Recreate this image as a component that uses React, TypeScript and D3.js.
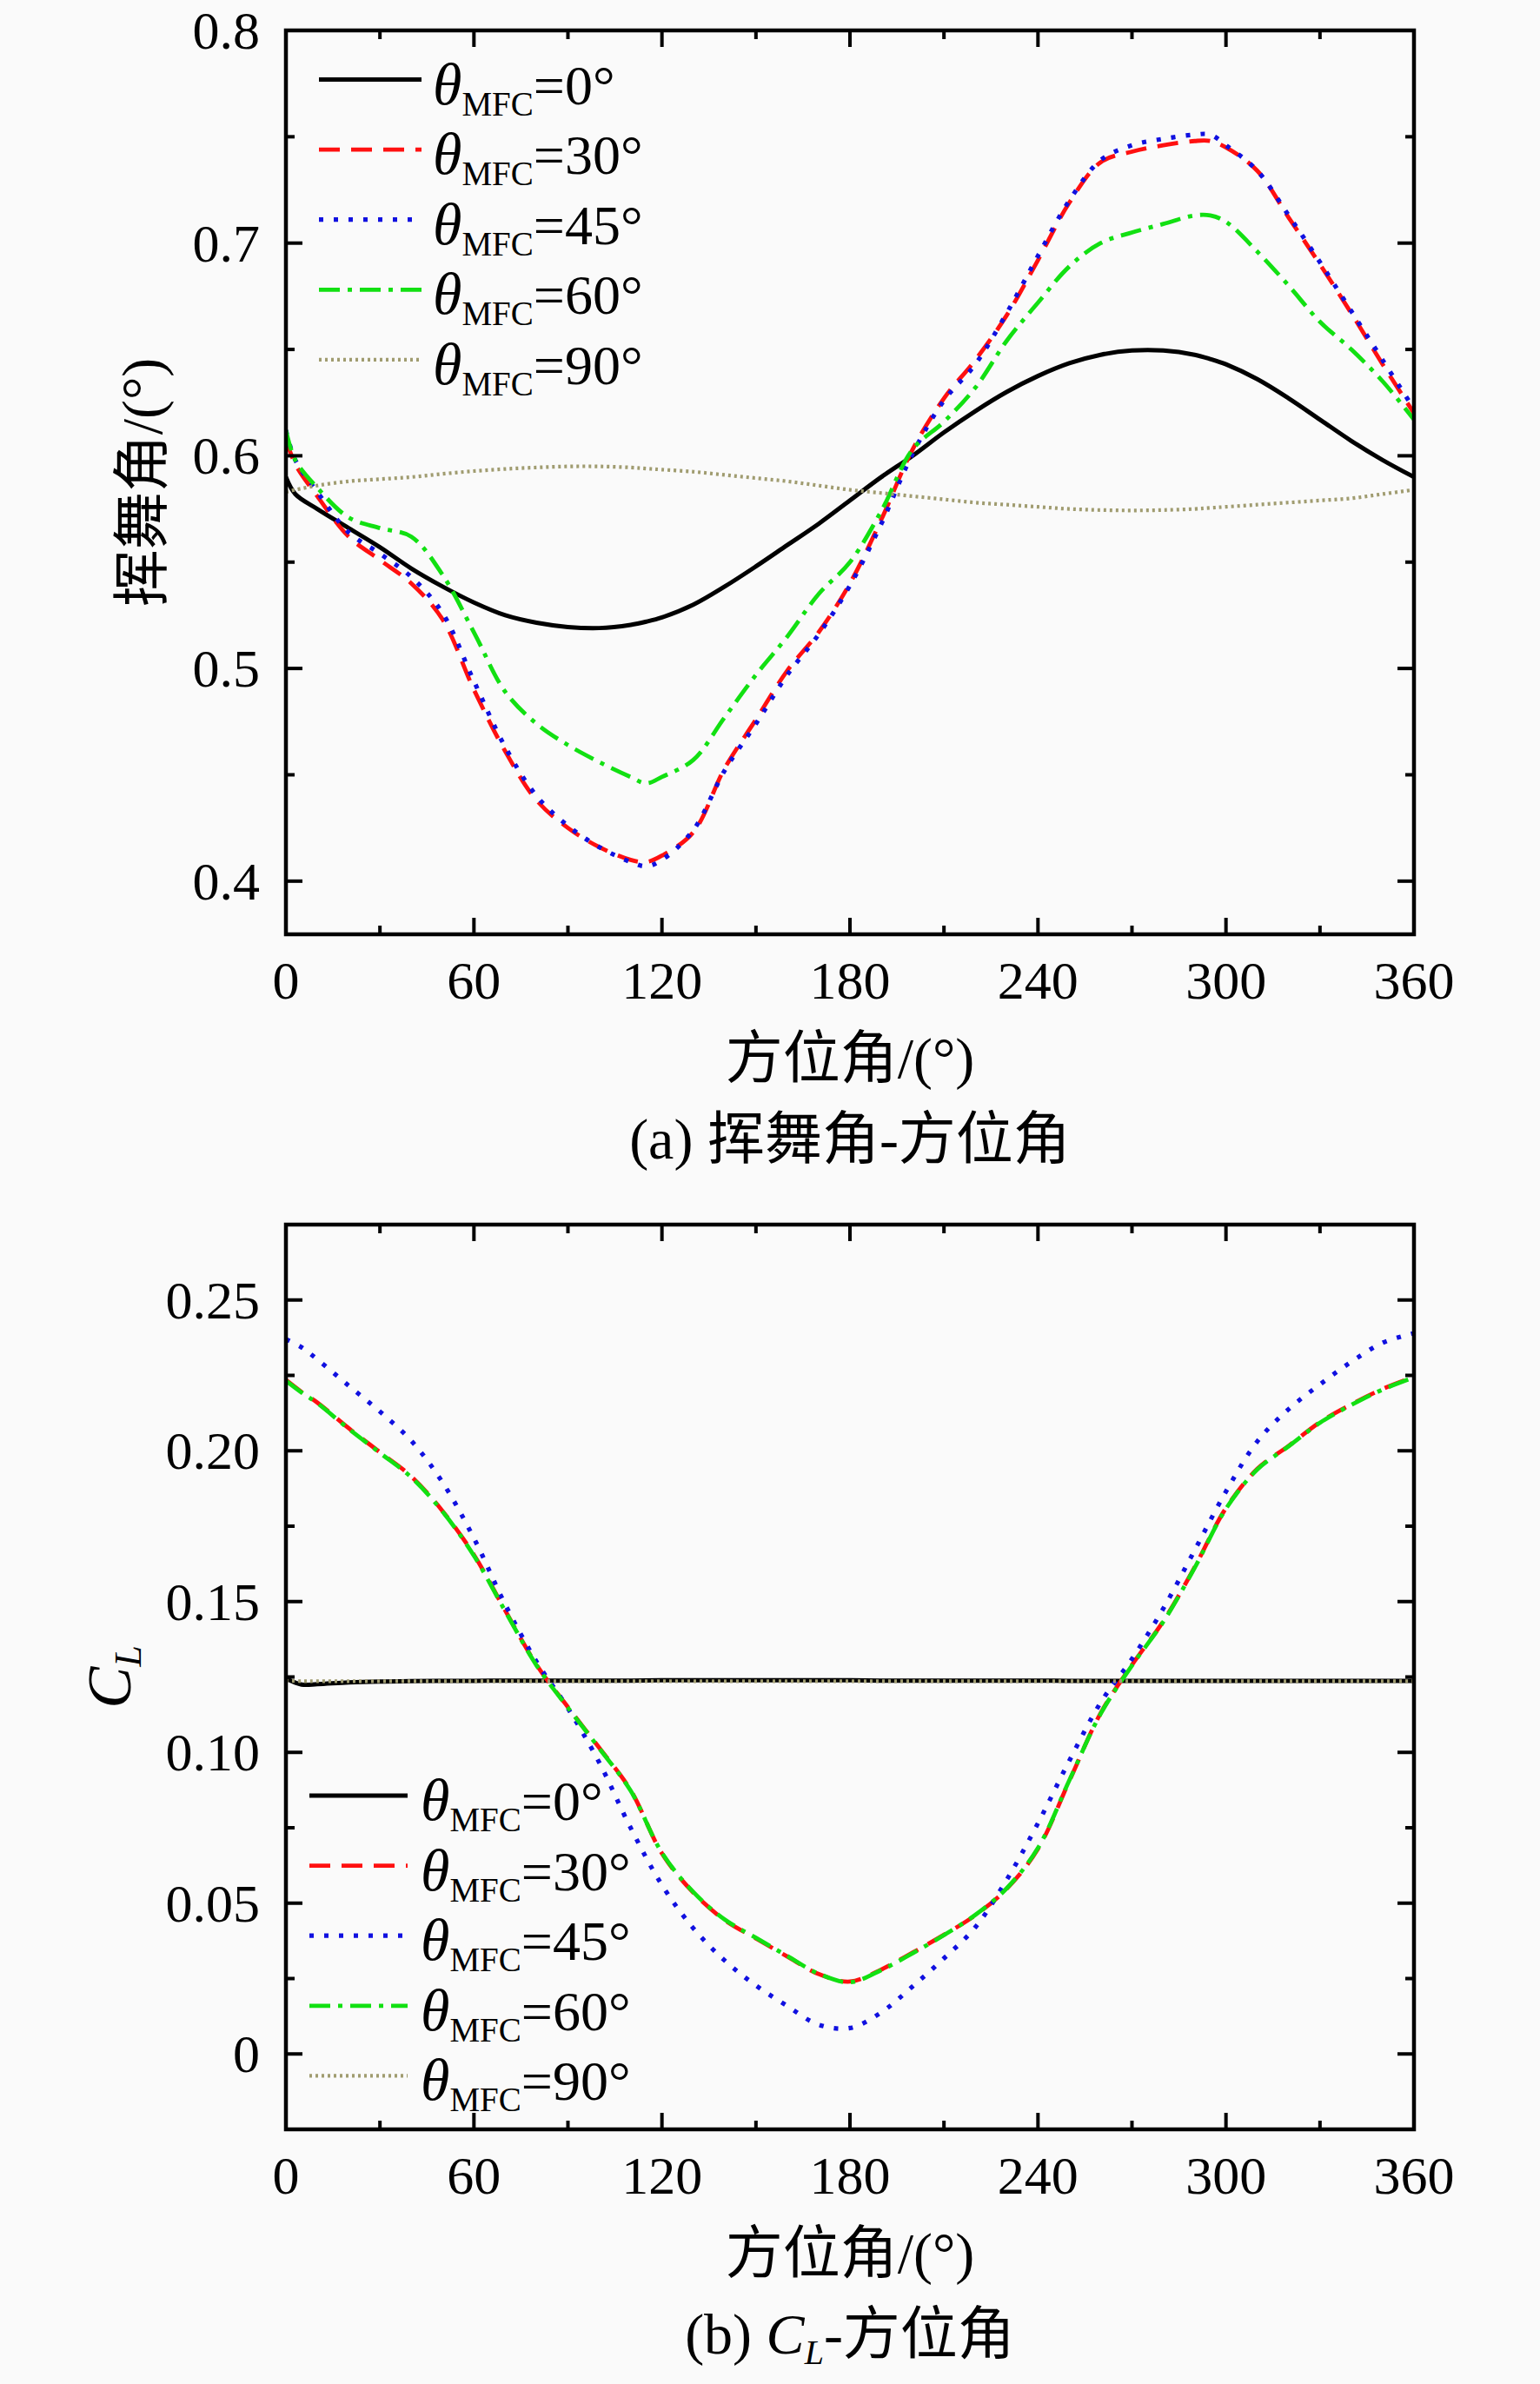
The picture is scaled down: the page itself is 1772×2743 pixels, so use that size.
import React from 'react';
import * as d3 from 'd3';

const W = 1772;
const H = 2743;
const LEFT = 329;
const RIGHT = 1627;

// (a) flap angle vs azimuth
const azimuthA = [0, 3, 10, 20, 30, 40, 50, 60, 70, 80, 90, 100, 110, 115, 120, 130, 140, 150, 160, 170,
  180, 190, 200, 210, 220, 230, 240, 250, 260, 270, 280, 290, 295, 300, 310, 320, 330, 340, 350, 360];
const flapMFC0 = [0.590, 0.582, 0.575, 0.566, 0.557, 0.547, 0.5385, 0.531, 0.525, 0.5215, 0.5195, 0.519, 0.5205, 0.522, 0.524, 0.530, 0.5385, 0.548, 0.558, 0.568,
  0.579, 0.590, 0.600, 0.611, 0.621, 0.630, 0.6375, 0.6435, 0.6475, 0.6495, 0.6495, 0.6475, 0.6455, 0.643, 0.636, 0.627, 0.617, 0.607, 0.598, 0.590];
const flapMFC30 = [0.608, 0.596, 0.581, 0.562, 0.551, 0.540, 0.523, 0.490, 0.461, 0.438, 0.425, 0.416, 0.410, 0.409, 0.412, 0.423, 0.453, 0.476, 0.499, 0.517,
  0.540, 0.570, 0.603, 0.627, 0.645, 0.666, 0.692, 0.719, 0.738, 0.743, 0.746, 0.748, 0.748, 0.745, 0.734, 0.712, 0.690, 0.667, 0.643, 0.620];
const flapMFC45 = [0.612, 0.598, 0.583, 0.564, 0.554, 0.543, 0.526, 0.494, 0.463, 0.440, 0.426, 0.416, 0.409, 0.407, 0.410, 0.424, 0.452, 0.474, 0.497, 0.516,
  0.539, 0.568, 0.601, 0.626, 0.643, 0.667, 0.694, 0.720, 0.739, 0.746, 0.749, 0.751, 0.751, 0.746, 0.734, 0.713, 0.691, 0.668, 0.645, 0.622];
const flapMFC60 = [0.612, 0.598, 0.585, 0.571, 0.566, 0.562, 0.544, 0.517, 0.489, 0.474, 0.464, 0.456, 0.449, 0.446, 0.449, 0.457, 0.477, 0.497, 0.515, 0.535,
  0.550, 0.574, 0.603, 0.616, 0.632, 0.654, 0.672, 0.689, 0.700, 0.705, 0.709, 0.713, 0.713, 0.710, 0.696, 0.680, 0.663, 0.650, 0.635, 0.617];
const flapMFC90 = [0.583, 0.584, 0.586, 0.588, 0.589, 0.590, 0.5915, 0.5928, 0.5938, 0.5945, 0.595, 0.595, 0.5945, 0.594, 0.5935, 0.5925, 0.591, 0.5895, 0.588, 0.586,
  0.584, 0.5825, 0.581, 0.5795, 0.578, 0.577, 0.576, 0.575, 0.5745, 0.5743, 0.5745, 0.575, 0.5755, 0.576, 0.577, 0.578, 0.579, 0.580, 0.582, 0.584];

// (b) lift coefficient vs azimuth
const azimuthB = [0, 5, 10, 20, 30, 40, 50, 60, 70, 80, 90, 100, 110, 120, 130, 140, 150, 160, 170,
  180, 190, 200, 210, 220, 230, 240, 250, 260, 270, 280, 290, 300, 310, 320, 330, 340, 350, 360];
const clMFC0 = [0.1245, 0.1225, 0.1226, 0.1232, 0.1235, 0.1236, 0.1237, 0.1237, 0.1238, 0.1238, 0.1238, 0.1238, 0.1238, 0.1239, 0.1239, 0.1239, 0.1239, 0.1239, 0.1239,
  0.1239, 0.1238, 0.1238, 0.1238, 0.1238, 0.1238, 0.1238, 0.1237, 0.1237, 0.1237, 0.1237, 0.1237, 0.1237, 0.1237, 0.1237, 0.1237, 0.1237, 0.1237, 0.1237];
const clMFC30 = [0.2235, 0.2195, 0.216, 0.2075, 0.1995, 0.1915, 0.180, 0.1655, 0.147, 0.129, 0.115, 0.1015, 0.0875, 0.0665, 0.0535, 0.0444, 0.0383, 0.0323, 0.0265,
  0.0240, 0.0280, 0.0336, 0.0395, 0.0460, 0.0547, 0.068, 0.0905, 0.113, 0.129, 0.1435, 0.1614, 0.181, 0.194, 0.2016, 0.2095, 0.2154, 0.2205, 0.2245];
const clMFC45 = [0.237, 0.2343, 0.2303, 0.2216, 0.213, 0.2033, 0.1895, 0.171, 0.149, 0.130, 0.1146, 0.0966, 0.075, 0.056, 0.0417, 0.031, 0.0227, 0.0159, 0.0097,
  0.0086, 0.0138, 0.0224, 0.0317, 0.042, 0.0577, 0.0765, 0.0972, 0.1165, 0.131, 0.1477, 0.167, 0.1865, 0.2031, 0.2138, 0.222, 0.2295, 0.2358, 0.239];
const clMFC60 = [0.2232, 0.2193, 0.2158, 0.2073, 0.1993, 0.1912, 0.1798, 0.1652, 0.1468, 0.1288, 0.1148, 0.1013, 0.0873, 0.0667, 0.0537, 0.0446, 0.0385, 0.0325, 0.0266,
  0.0238, 0.0278, 0.0334, 0.0394, 0.0461, 0.0549, 0.0683, 0.0907, 0.1128, 0.1288, 0.1433, 0.1612, 0.1808, 0.1938, 0.2015, 0.2093, 0.2152, 0.2203, 0.2243];
const clMFC90 = [0.1238, 0.1236, 0.1236, 0.1236, 0.1236, 0.1236, 0.1236, 0.1236, 0.1236, 0.1236, 0.1236, 0.1236, 0.1236, 0.1236, 0.1236, 0.1236, 0.1236, 0.1236, 0.1236,
  0.1236, 0.1236, 0.1236, 0.1236, 0.1236, 0.1236, 0.1236, 0.1236, 0.1236, 0.1236, 0.1236, 0.1236, 0.1236, 0.1236, 0.1236, 0.1236, 0.1236, 0.1236, 0.1236];

const mfcLabels = ['0°', '30°', '45°', '60°', '90°'];
const xMajorTicks = [0, 60, 120, 180, 240, 300, 360];
const xMinorTicks = [30, 90, 150, 210, 270, 330];

const styles = [
  { color: '#000000', dash: undefined, width: 5 },
  { color: '#ff1010', dash: '24,13', width: 4.8 },
  { color: '#1010e0', dash: '5,12', width: 5.2 },
  { color: '#12e012', dash: '24,9,5,9', width: 4.8 },
  { color: '#a09c70', dash: '3,4', width: 4.2 },
];

const SERIF = "'Liberation Serif','Times New Roman','Noto Sans CJK SC',serif";

type PanelProps = {
  id: string;
  top: number;
  bottom: number;
  yDomain: [number, number];
  yMajor: number[];
  yMinor: number[];
  yFmt: (v: number) => string;
  azimuth: number[];
  values: number[][];
  legendLineX: [number, number];
  legendTextX: number;
  legendY0: number;
  yTitle: React.ReactNode;
  caption: React.ReactNode;
};

const Panel = (p: PanelProps) => {
  const x = d3.scaleLinear().domain([0, 360]).range([LEFT, RIGHT]);
  const y = d3.scaleLinear().domain(p.yDomain).range([p.bottom, p.top]);
  const line = d3.line<number>()
    .x((_, i) => x(p.azimuth[i]))
    .y(d => y(d))
    .curve(d3.curveCatmullRom.alpha(0.5));
  const major = 19;
  const minor = 10;
  const rowGap = 80.6;
  return (
    <g>
      <defs>
        <clipPath id={p.id}>
          <rect x={LEFT} y={p.top} width={RIGHT - LEFT} height={p.bottom - p.top} />
        </clipPath>
      </defs>
      <g clipPath={`url(#${p.id})`}>
        {p.values.map((vals, i) => (
          <path key={i} d={line(vals) || ''} fill="none" stroke={styles[i].color}
            strokeWidth={styles[i].width} strokeDasharray={styles[i].dash} />
        ))}
      </g>
      {/* ticks, all pointing inward */}
      <g stroke="#000" strokeWidth={4}>
        {xMajorTicks.map(t => (
          <g key={'xm' + t}>
            <line x1={x(t)} x2={x(t)} y1={p.bottom} y2={p.bottom - major} />
            <line x1={x(t)} x2={x(t)} y1={p.top} y2={p.top + major} />
          </g>
        ))}
        {xMinorTicks.map(t => (
          <g key={'xn' + t}>
            <line x1={x(t)} x2={x(t)} y1={p.bottom} y2={p.bottom - minor} />
            <line x1={x(t)} x2={x(t)} y1={p.top} y2={p.top + minor} />
          </g>
        ))}
        {p.yMajor.map(t => (
          <g key={'ym' + t}>
            <line x1={LEFT} x2={LEFT + major} y1={y(t)} y2={y(t)} />
            <line x1={RIGHT} x2={RIGHT - major} y1={y(t)} y2={y(t)} />
          </g>
        ))}
        {p.yMinor.map(t => (
          <g key={'yn' + t}>
            <line x1={LEFT} x2={LEFT + minor} y1={y(t)} y2={y(t)} />
            <line x1={RIGHT} x2={RIGHT - minor} y1={y(t)} y2={y(t)} />
          </g>
        ))}
      </g>
      <rect x={LEFT} y={p.top} width={RIGHT - LEFT} height={p.bottom - p.top}
        fill="none" stroke="#000" strokeWidth={4.5} />
      {/* tick labels */}
      <g fontFamily={SERIF} fontSize={62} fill="#000">
        {xMajorTicks.map(t => (
          <text key={'xl' + t} x={x(t)} y={p.bottom + 74} textAnchor="middle">{t}</text>
        ))}
        {p.yMajor.map(t => (
          <text key={'yl' + t} x={LEFT - 30} y={y(t) + 21} textAnchor="end">{p.yFmt(t)}</text>
        ))}
      </g>
      <text x={(LEFT + RIGHT) / 2} y={p.bottom + 165} textAnchor="middle"
        fontFamily={SERIF} fontSize={66}>方位角/(°)</text>
      {p.yTitle}
      <text x={(LEFT + RIGHT) / 2} y={p.bottom + 258} textAnchor="middle"
        fontFamily={SERIF} fontSize={66}>{p.caption}</text>
      {/* legend */}
      <g fontFamily={SERIF} fontSize={64}>
        {mfcLabels.map((lab, i) => {
          const ly = p.legendY0 + i * rowGap;
          return (
            <g key={'lg' + i}>
              <line x1={p.legendLineX[0]} x2={p.legendLineX[1]} y1={ly} y2={ly}
                stroke={styles[i].color} strokeWidth={styles[i].width} strokeDasharray={styles[i].dash} />
              <text x={p.legendTextX} y={ly + 28}>
                <tspan fontStyle="italic" fontSize={68}>θ</tspan>
                <tspan fontSize={39} dy={13}>MFC</tspan>
                <tspan dy={-13}>={lab}</tspan>
              </text>
            </g>
          );
        })}
      </g>
    </g>
  );
};

export default function App() {
  const midA = (35 + 1075) / 2;
  const midB = (1409 + 2450) / 2;
  return (
    <div style={{ position: 'absolute', left: 0, top: 0 }}>
      <svg width={W} height={H} viewBox={`0 0 ${W} ${H}`}>
        <rect x={0} y={0} width={W} height={H} fill="#fafafa" />
        <Panel
          id="clipA"
          top={35}
          bottom={1075}
          yDomain={[0.375, 0.8]}
          yMajor={[0.4, 0.5, 0.6, 0.7, 0.8]}
          yMinor={[0.45, 0.55, 0.65, 0.75]}
          yFmt={v => d3.format('.1f')(v)}
          azimuth={azimuthA}
          values={[flapMFC0, flapMFC30, flapMFC45, flapMFC60, flapMFC90]}
          legendLineX={[367, 485]}
          legendTextX={498}
          legendY0={91.5}
          yTitle={
            <text transform={`translate(186, ${midA}) rotate(-90)`} textAnchor="middle"
              fontFamily={SERIF} fontSize={66}>挥舞角/(°)</text>
          }
          caption={<>(a) 挥舞角-方位角</>}
        />
        <Panel
          id="clipB"
          top={1409}
          bottom={2450}
          yDomain={[-0.025, 0.275]}
          yMajor={[0, 0.05, 0.1, 0.15, 0.2, 0.25]}
          yMinor={[0.025, 0.075, 0.125, 0.175, 0.225]}
          yFmt={v => (v === 0 ? '0' : d3.format('.2f')(v))}
          azimuth={azimuthB}
          values={[clMFC0, clMFC30, clMFC45, clMFC60, clMFC90]}
          legendLineX={[356, 469]}
          legendTextX={484}
          legendY0={2066}
          yTitle={
            <text transform={`translate(150, ${midB}) rotate(-90)`} textAnchor="middle"
              fontFamily={SERIF} fontSize={72} fontStyle="italic">
              C<tspan fontSize={44} dy={12}>L</tspan>
            </text>
          }
          caption={<>(b) <tspan fontStyle="italic">C</tspan><tspan fontStyle="italic" fontSize={40} dy={12}>L</tspan><tspan dy={-12}>-方位角</tspan></>}
        />
      </svg>
    </div>
  );
}
